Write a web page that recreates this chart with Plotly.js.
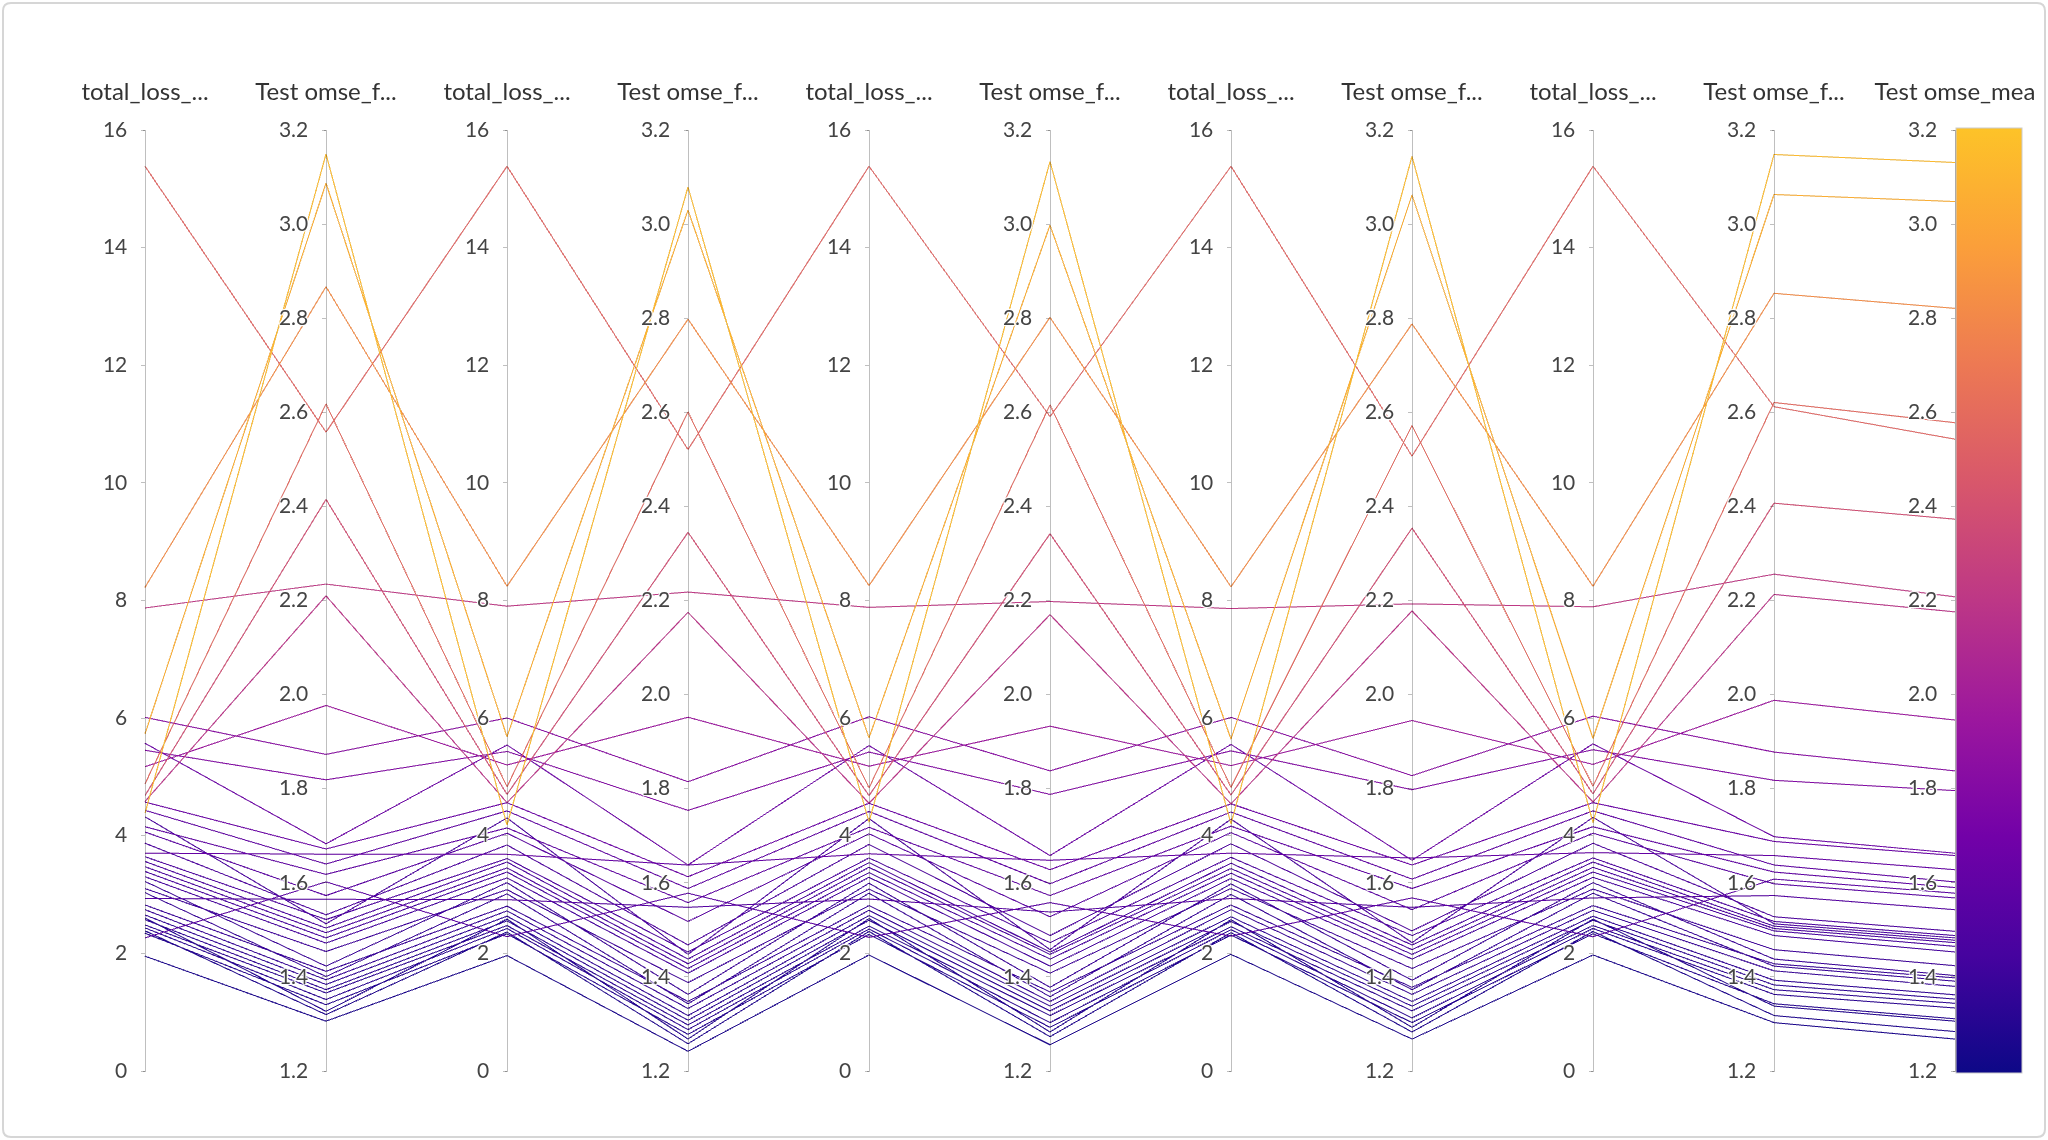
<!DOCTYPE html>
<html>
<head>
<meta charset="utf-8">
<script src="https://cdn.plot.ly/plotly-3.0.1.min.js"></script>
<style>
  html, body { margin: 0; padding: 0; background: #ffffff; }
  #chart { width: 2048px; height: 1140px; }
</style>
</head>
<body>
<div id="chart"></div>
<script>
// Axis labels as shown (truncated in the original)
const axisLabels = ["total_loss_...", "Test omse_f...", "total_loss_...", "Test omse_f...", "total_loss_...",
                    "Test omse_f...", "total_loss_...", "Test omse_f...", "total_loss_...", "Test omse_f...", "Test omse_mea"];

const lossTicks = [0, 2, 4, 6, 8, 10, 12, 14, 16];
const lossTickText = ["0", "2", "4", "6", "8", "10", "12", "14", "16"];
const omseTicks = [1.2, 1.4, 1.6, 1.8, 2.0, 2.2, 2.4, 2.6, 2.8, 3.0, 3.2];
const omseTickText = ["1.2", "1.4", "1.6", "1.8", "2.0", "2.2", "2.4", "2.6", "2.8", "3.0", "3.2"];

// total_loss values (one entry per run)
const loss1 = [4.40, 5.75, 8.24, 15.40, 4.90, 4.70, 7.89, 4.60, 5.19, 6.03, 5.47, 5.59,
               4.59, 3.72, 4.45, 4.17, 2.28, 4.08, 2.95, 3.89, 3.66, 4.34, 3.58, 3.49, 3.41, 3.32,
               3.12, 3.24, 2.84, 3.05, 2.76, 2.67, 2.59, 2.50, 2.45, 2.36, 2.62, 2.40, 1.97];
const loss2 = [4.20, 5.70, 8.26, 15.40, 4.85, 4.72, 7.92, 4.58, 5.22, 6.02, 5.45, 5.56,
               4.58, 3.70, 4.44, 4.15, 2.30, 4.06, 2.93, 3.86, 3.63, 4.32, 3.57, 3.47, 3.40, 3.30,
               3.10, 3.22, 2.82, 3.03, 2.74, 2.65, 2.57, 2.49, 2.44, 2.35, 2.60, 2.38, 1.98];
const loss3 = [4.25, 5.68, 8.27, 15.40, 4.83, 4.70, 7.90, 4.57, 5.20, 6.04, 5.44, 5.55,
               4.57, 3.71, 4.43, 4.16, 2.29, 4.05, 2.94, 3.87, 3.64, 4.31, 3.56, 3.48, 3.39, 3.31,
               3.11, 3.21, 2.83, 3.04, 2.75, 2.66, 2.58, 2.48, 2.43, 2.34, 2.61, 2.39, 1.99];
const loss4 = [4.22, 5.66, 8.25, 15.40, 4.84, 4.71, 7.88, 4.56, 5.21, 6.03, 5.46, 5.57,
               4.56, 3.72, 4.42, 4.18, 2.31, 4.07, 2.95, 3.88, 3.65, 4.30, 3.55, 3.46, 3.38, 3.29,
               3.12, 3.20, 2.84, 3.02, 2.76, 2.64, 2.56, 2.47, 2.42, 2.33, 2.59, 2.37, 2.00];
const loss5 = [4.24, 5.67, 8.26, 15.40, 4.86, 4.73, 7.91, 4.59, 5.23, 6.05, 5.48, 5.58,
               4.58, 3.73, 4.44, 4.17, 2.30, 4.06, 2.96, 3.89, 3.64, 4.33, 3.57, 3.48, 3.40, 3.31,
               3.11, 3.22, 2.83, 3.04, 2.75, 2.65, 2.58, 2.49, 2.44, 2.35, 2.60, 2.39, 1.99];

// Test omse values (one entry per run)
const omse1 = [3.151, 3.089, 2.869, 2.560, 2.620, 2.417, 2.237, 2.212, 1.979, 1.875, 1.821, 1.685,
               1.674, 1.663, 1.642, 1.620, 1.604, 1.575, 1.567, 1.534, 1.524, 1.515, 1.506, 1.496, 1.485, 1.474,
               1.456, 1.425, 1.414, 1.403, 1.396, 1.386, 1.375, 1.368, 1.354, 1.343, 1.329, 1.322, 1.308];
const omse2 = [3.081, 3.032, 2.800, 2.523, 2.603, 2.347, 2.220, 2.177, 1.954, 1.817, 1.756, 1.640,
               1.615, 1.640, 1.590, 1.560, 1.580, 1.520, 1.550, 1.470, 1.455, 1.450, 1.440, 1.430, 1.420, 1.410,
               1.390, 1.365, 1.350, 1.345, 1.335, 1.320, 1.310, 1.300, 1.290, 1.280, 1.270, 1.260, 1.244];
const omse3 = [3.135, 3.000, 2.804, 2.593, 2.618, 2.344, 2.200, 2.172, 1.935, 1.840, 1.790, 1.660,
               1.630, 1.650, 1.600, 1.575, 1.560, 1.530, 1.540, 1.490, 1.475, 1.460, 1.455, 1.450, 1.440, 1.425,
               1.410, 1.380, 1.370, 1.360, 1.350, 1.340, 1.330, 1.320, 1.305, 1.295, 1.285, 1.275, 1.258];
const omse4 = [3.146, 3.064, 2.790, 2.509, 2.574, 2.356, 2.195, 2.180, 1.947, 1.830, 1.800, 1.650,
               1.640, 1.655, 1.610, 1.590, 1.570, 1.545, 1.550, 1.500, 1.490, 1.475, 1.470, 1.460, 1.450, 1.440,
               1.420, 1.395, 1.380, 1.375, 1.365, 1.350, 1.340, 1.330, 1.315, 1.305, 1.295, 1.285, 1.270];
const omse5 = [3.150, 3.065, 2.855, 2.614, 2.623, 2.409, 2.258, 2.215, 1.990, 1.880, 1.820, 1.700,
               1.690, 1.660, 1.640, 1.625, 1.610, 1.600, 1.575, 1.530, 1.520, 1.515, 1.510, 1.505, 1.500, 1.490,
               1.460, 1.440, 1.430, 1.425, 1.415, 1.395, 1.385, 1.375, 1.365, 1.345, 1.340, 1.320, 1.305];
const omseMean = [3.133, 3.050, 2.823, 2.545, 2.580, 2.375, 2.210, 2.178, 1.948, 1.840, 1.798, 1.665,
                  1.660, 1.630, 1.604, 1.592, 1.580, 1.570, 1.545, 1.499, 1.490, 1.485, 1.480, 1.475, 1.467, 1.455,
                  1.426, 1.405, 1.400, 1.393, 1.382, 1.364, 1.355, 1.346, 1.336, 1.313, 1.308, 1.286, 1.270];

// Plasma-like scale as used in the original colorbar
const colorScale = [
  [0.000, "#0d0887"], [0.125, "#46039f"], [0.250, "#7201a8"], [0.375, "#9c179e"],
  [0.500, "#bd3786"], [0.625, "#d8576b"], [0.750, "#ed7953"], [0.875, "#fb9f3a"], [1.000, "#fdc328"]
];

const FONT = "Lato, 'Noto Sans', sans-serif";
const PAD = "\u00a0\u00a0"; // keeps tick labels a little away from the axis, as in the original

const lossDim = (label, vals) => ({
  label: label, values: vals, range: [0, 16],
  tickvals: lossTicks, ticktext: lossTickText.map(t => t + PAD)
});
const omseDim = (label, vals) => ({
  label: label, values: vals, range: [1.2, 3.2],
  tickvals: omseTicks, ticktext: omseTickText.map(t => t + PAD)
});

const dims = [
  lossDim(axisLabels[0], loss1), omseDim(axisLabels[1], omse1),
  lossDim(axisLabels[2], loss2), omseDim(axisLabels[3], omse2),
  lossDim(axisLabels[4], loss3), omseDim(axisLabels[5], omse3),
  lossDim(axisLabels[6], loss4), omseDim(axisLabels[7], omse4),
  lossDim(axisLabels[8], loss5), omseDim(axisLabels[9], omse5),
  omseDim(axisLabels[10], omseMean)
];

const W = 2048, H = 1140;
const trace = {
  type: "parcoords",
  domain: { x: [145 / W, 1955 / W], y: [1 - 1073 / H, 1 - 128 / H] },
  labelside: "top",
  labelfont: { family: FONT, size: 24, color: "#333333" },
  tickfont: { family: FONT, size: 21, color: "#444444" },
  rangefont: { size: 1, color: "rgba(0,0,0,0)" },
  line: {
    color: omseMean,
    colorscale: colorScale,
    cmin: 1.2, cmax: 3.2,
    showscale: true,
    colorbar: {
      x: 1956 / W, xanchor: "left", xref: "paper",
      y: 1 - 1073 / H, yanchor: "bottom", yref: "paper",
      len: 945, lenmode: "pixels",
      thickness: 66, thicknessmode: "pixels",
      xpad: 0, ypad: 0,
      outlinewidth: 1, outlinecolor: "#cccccc",
      showticklabels: false, ticks: "", borderwidth: 0
    }
  },
  dimensions: dims
};

// rounded outer frame (pixel positions converted to paper units)
const px = x => (x / W).toFixed(5), py = y => (1 - y / H).toFixed(5);
const r = 8, x0 = 3, x1 = 2045, y0 = 3, y1 = 1137;
const framePath =
  `M ${px(x0 + r)},${py(y0)} L ${px(x1 - r)},${py(y0)} Q ${px(x1)},${py(y0)} ${px(x1)},${py(y0 + r)} ` +
  `L ${px(x1)},${py(y1 - r)} Q ${px(x1)},${py(y1)} ${px(x1 - r)},${py(y1)} ` +
  `L ${px(x0 + r)},${py(y1)} Q ${px(x0)},${py(y1)} ${px(x0)},${py(y1 - r)} ` +
  `L ${px(x0)},${py(y0 + r)} Q ${px(x0)},${py(y0)} ${px(x0 + r)},${py(y0)} Z`;

const layout = {
  width: W, height: H,
  margin: { l: 0, r: 0, t: 0, b: 0 },
  paper_bgcolor: "#ffffff",
  font: { family: FONT, color: "#444444" },
  shapes: [{
    type: "path", xref: "paper", yref: "paper", path: framePath,
    line: { color: "#d6d6d6", width: 2 }, fillcolor: "rgba(0,0,0,0)"
  }]
};

Plotly.newPlot("chart", [trace], layout, { displayModeBar: false, plotGlPixelRatio: 1 });
</script>
</body>
</html>
